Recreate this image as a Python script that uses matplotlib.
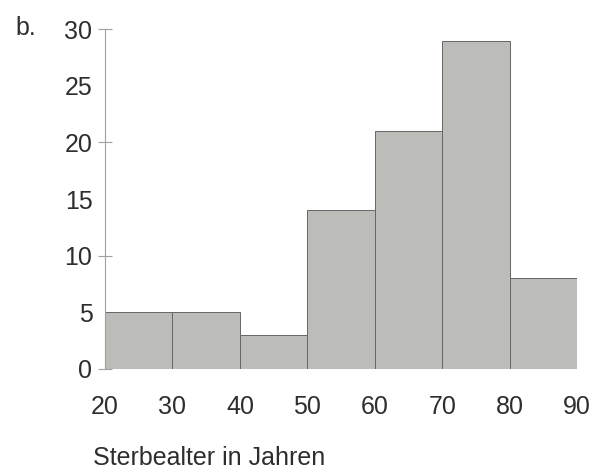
import matplotlib
matplotlib.use("Agg")
import matplotlib.pyplot as plt
import numpy as np

# Histogram: age at death
bin_edges = [20, 30, 40, 50, 60, 70, 80, 90]
counts = [5, 5, 3, 14, 21, 29, 8]
y_major = [0, 10, 20, 30]
y_minor = [5, 15, 25]

plt.rcParams["font.family"] = ["Liberation Sans", "DejaVu Sans"]
text_color = "#2e2e2e"
fs = 18

fig = plt.figure(figsize=(6.14, 4.71), dpi=100)
ax = fig.add_axes([0.171, 0.2166, 0.769, 0.7214])

lefts = np.array(bin_edges[:-1])
widths = np.diff(bin_edges)
ax.bar(lefts, counts, width=widths, align="edge",
       color="#bcbcb9", edgecolor="#666666", linewidth=0.7)

ax.set_xlim(20, 90)
ax.set_ylim(0, 30)

for side in ["top", "right", "bottom"]:
    ax.spines[side].set_visible(False)
ax.spines["left"].set_color("#a0a0a0")
ax.spines["left"].set_linewidth(0.8)

# ticks with marks at 0/10/20/30, labels every 5
ax.set_yticks(y_major)
ax.set_yticklabels([str(v) for v in y_major])
ax.tick_params(axis="y", which="major", direction="inout", length=10,
               width=0.8, color="#a0a0a0", pad=4, labelsize=fs,
               labelcolor=text_color)
ax.set_yticks(y_minor, minor=True)
ax.set_yticklabels([str(v) for v in y_minor], minor=True)
ax.tick_params(axis="y", which="minor", length=0, pad=9, labelsize=fs,
               labelcolor=text_color)

ax.set_xticks(bin_edges)
ax.set_xticklabels([str(v) for v in bin_edges])
ax.tick_params(axis="x", length=0, pad=19, labelsize=fs, labelcolor=text_color)

fig.text(0.025, 0.94, "b.", fontsize=fs, color=text_color, va="center")
fig.text(0.151, 0.028, "Sterbealter in Jahren", fontsize=fs,
         color=text_color, va="center", ha="left")

fig.savefig("out.png", dpi=100, facecolor="white")
plt.close(fig)
